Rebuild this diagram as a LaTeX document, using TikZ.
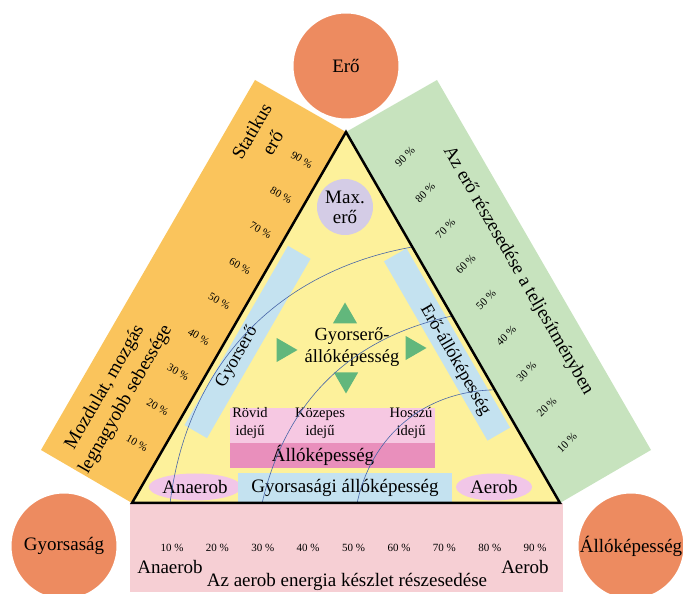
\documentclass[tikz,border=0pt]{standalone}
\usepackage{fontspec}
\setmainfont{Liberation Serif}
\usetikzlibrary{calc, shapes.geometric}
\definecolor{bandorange}{RGB}{250,196,92}
\definecolor{bandgreen}{RGB}{199,227,190}
\definecolor{bandpink}{RGB}{246,207,212}
\definecolor{triyellow}{RGB}{253,241,155}
\definecolor{ballorange}{RGB}{237,139,96}
\definecolor{maxlilac}{RGB}{212,204,230}
\definecolor{stripblue}{RGB}{196,226,240}
\definecolor{boxpink}{RGB}{246,200,226}
\definecolor{boxmagenta}{RGB}{233,143,188}
\definecolor{ovalpink}{RGB}{241,198,232}
\definecolor{arrowgreen}{RGB}{98,183,124}
\definecolor{arcblue}{RGB}{72,102,168}
\tikzset{%
  bigtext/.style = {font = \fontsize{19}{24}\selectfont, align = center, inner sep = 0pt},
  midtext/.style = {font = \fontsize{14.5}{18}\selectfont, align = center, inner sep = 0pt},
  pcttext/.style = {font = \fontsize{11}{12}\selectfont, inner sep = 0pt},
  ball/.style = {circle, fill = ballorange, draw = white, line width = 3pt, minimum size = 108pt, bigtext},
  strip/.style = {rectangle, fill = stripblue, minimum width = 207pt, minimum height = 26pt},
  pointer/.style = {regular polygon, regular polygon sides = 3, fill = arrowgreen, minimum size = 28pt, inner sep = 0pt},
  oval/.style = {ellipse, fill = ovalpink, minimum width = 78pt, minimum height = 27pt, bigtext},
  zone/.style = {draw = arcblue, line width = 0.6pt}
}
\begin{document}
\begin{tikzpicture}[x=1pt, y=1pt]
  \useasboundingbox (0,0) rectangle (683,594);
  % corners of the triangle and the outer bands
  \coordinate (Top) at (346,462);
  \coordinate (Left) at (132,91);
  \coordinate (Right) at (560,91);
  \coordinate (OrangeTop) at (255,514);
  \coordinate (OrangeLow) at (41,144);
  \coordinate (GreenTop) at (437,514);
  \coordinate (GreenLow) at (651,144);
  \fill[bandorange] (Left) -- (Top) -- (OrangeTop) -- (OrangeLow) -- cycle;
  \fill[bandgreen] (Top) -- (Right) -- (GreenLow) -- (GreenTop) -- cycle;
  \fill[bandpink] (130,2) rectangle (563,91);
  \fill[triyellow] (Top) -- (Left) -- (Right) -- cycle;

  \node[strip, rotate=60] at (247.5,252) (FastStrip) {};
  \node[strip, rotate=-60] at (447,249.5) (EnduStrip) {};
  \node[bigtext, font=\fontsize{18}{20}\selectfont, rotate=60] at (237,237) (FastLabel) {Gyorserő};
  \node[bigtext, font=\fontsize{18}{20}\selectfont, rotate=-60] at (455,234) (EnduLabel) {Erő-állóképesség};
  \node[circle, fill=maxlilac, minimum size=56pt, bigtext, font=\fontsize{19}{20}\selectfont] at (345,387) (MaxForce) {Max.\\erő};

  \node[pointer] at (345,277.5) (UpArrow) {};
  \node[pointer, shape border rotate=-90] at (283.5,244) (LeftArrow) {};
  \node[pointer, shape border rotate=-90] at (412.5,246) (RightArrow) {};
  \node[pointer, shape border rotate=180] at (346,214.5) (DownArrow) {};
  \node[bigtext, font=\fontsize{18.5}{21.5}\selectfont] at (352,247) (Core) {Gyorserő-\\állóképesség};

  \node[rectangle, fill=boxpink, minimum width=205pt, minimum height=35pt] at (332.5,168.5) (Duration) {};
  \node[rectangle, fill=boxmagenta, minimum width=205pt, minimum height=25pt] at (332.5,138.5) (EnduBox) {};
  \node[midtext] at (250,171) (Short) {Rövid\\idejű};
  \node[midtext] at (320,171) (Medium) {Közepes\\idejű};
  \node[midtext] at (411,171) (Long) {Hosszú\\idejű};
  \node[bigtext] at (323,139) (EnduText) {Állóképesség};

  \node[oval] at (195,107) (Anaer) {Anaerob};
  \node[rectangle, fill=stripblue, minimum width=214pt, minimum height=29pt, bigtext] at (345,106.5) (SpeedEndu) {Gyorsasági állóképesség};
  \node[oval, minimum width=76pt] at (494,107) (Aer) {Aerob};

  % zone borders
  \coordinate (ArcAStart) at ($(Left)!0.089!(Right)$);
  \coordinate (ArcBStart) at ($(Left)!0.304!(Right)$);
  \coordinate (ArcCStart) at ($(Left)!0.526!(Right)$);
  \coordinate (ArcAEnd) at ($(Top)!0.31!(Right)$);
  \coordinate (ArcBEnd) at ($(Top)!0.496!(Right)$);
  \coordinate (ArcCEnd) at ($(Top)!0.695!(Right)$);
  \draw[zone] (ArcAStart) to[out=83, in=190] (ArcAEnd);
  \draw[zone] (ArcBStart) to[out=77, in=192] (ArcBEnd);
  \draw[zone] (ArcCStart) to[out=78, in=181] (ArcCEnd);

  \draw[line width=2.5pt, line join=miter] (Top) -- (Left) -- (Right) -- cycle;

  \foreach \k in {1,...,9} {
    \node[pcttext, rotate=-30] at ({137+(\k-1)*20.6}, {151+(\k-1)*35.4}) (LeftPct\k) {\k0 \%};
    \node[pcttext, rotate=45] at ({567-(\k-1)*20.25}, {151+(\k-1)*35.75}) (RightPct\k) {\k0 \%};
    \node[pcttext] at ({172+(\k-1)*45.4}, 46) (LowPct\k) {\k0 \%};
  }

  \node[bigtext, rotate=60] at (262,457) (StaticLabel) {Statikus\\erő};
  \node[bigtext, rotate=60] at (115.5,200.5) (SpeedLabel) {Mozdulat, mozgás\\legnagyobb sebessége};
  \node[bigtext, rotate=-60] at (518,323) (ShareLabel) {Az erő részesedése a teljesítményben};
  \node[bigtext] at (170,27) (AnaerEnd) {Anaerob};
  \node[bigtext] at (525,27) (AerEnd) {Aerob};
  \node[bigtext] at (347,12) (AerShare) {Az aerob energia készlet részesedése};

  \node[ball] at (346,528) (Force) {Erő};
  \node[ball] at (64,48) (Speed) {Gyorsaság};
  \node[ball] at (631,48) (Endurance) {Állóképesség};
\end{tikzpicture}
\end{document}
